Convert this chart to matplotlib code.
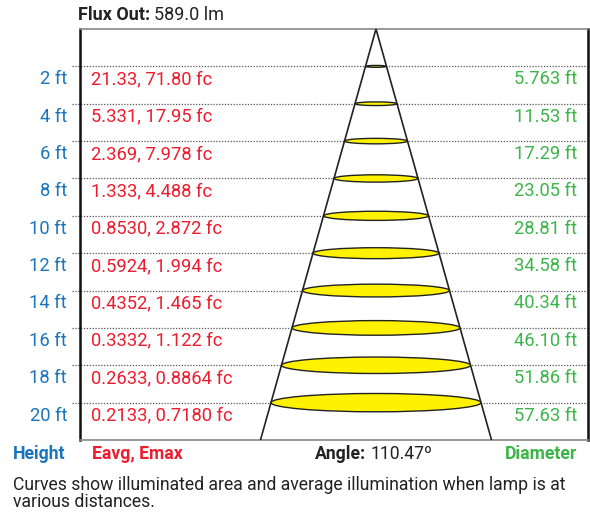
import matplotlib
matplotlib.use("Agg")
import matplotlib.pyplot as plt
from matplotlib.patches import Ellipse
from matplotlib.transforms import blended_transform_factory
import numpy as np

plt.rcParams['font.family'] = ['Roboto', 'DejaVu Sans']

heights = [2, 4, 6, 8, 10, 12, 14, 16, 18, 20]
height_labels = ["2 ft", "4 ft", "6 ft", "8 ft", "10 ft", "12 ft", "14 ft", "16 ft", "18 ft", "20 ft"]
illum_labels = ["21.33, 71.80 fc", "5.331, 17.95 fc", "2.369, 7.978 fc", "1.333, 4.488 fc",
                "0.8530, 2.872 fc", "0.5924, 1.994 fc", "0.4352, 1.465 fc", "0.3332, 1.122 fc",
                "0.2633, 0.8864 fc", "0.2133, 0.7180 fc"]
diameters = [5.763, 11.53, 17.29, 23.05, 28.81, 34.58, 40.34, 46.10, 51.86, 57.63]
diameter_labels = ["5.763 ft", "11.53 ft", "17.29 ft", "23.05 ft", "28.81 ft", "34.58 ft",
                   "40.34 ft", "46.10 ft", "51.86 ft", "57.63 ft"]
flux = "589.0 lm"
angle = 110.47
caption = "Curves show illuminated area and average illumination when lamp is at\nvarious distances."

W, H = 590, 516
fig = plt.figure(figsize=(W / 100, H / 100), dpi=100)

# axes box in pixels
L, R, T, B = 80, 588, 29, 440
ax = fig.add_axes([L / W, 1 - B / H, (R - L) / W, (B - T) / H])
px_per_ft = 3.645
cx = 376
YMAX = 22
ax.set_xlim((L - cx) / px_per_ft, (R - cx) / px_per_ft)
ax.set_ylim(YMAX, 0)
ax.set_xticks([])
ax.set_yticks([])
for s in ['top', 'bottom']:
    ax.spines[s].set_color('#888888')
    ax.spines[s].set_linewidth(1.2)
for s in ['left', 'right']:
    ax.spines[s].set_color('#111111')
    ax.spines[s].set_linewidth(1.8)

BLUE = '#1a75bc'
RED = '#ed1c2e'
GREEN = '#3db54a'
DARK = '#222222'
FS = 13.2
FS2 = 12.7

fig_x = blended_transform_factory(fig.transFigure, ax.transData)

# dotted lines
for h in heights:
    ax.plot([(L - 8 - cx) / px_per_ft, (R - cx) / px_per_ft], [h, h], color='#555555',
            lw=0.9, ls=(0, (1, 1.3)), zorder=1, clip_on=False)

# cone
half = np.tan(np.radians(angle / 2))
ax.plot([-half * YMAX, 0, half * YMAX], [YMAX, 0, YMAX], color=DARK, lw=1.2, zorder=3)

# ellipses
for h, d in zip(heights, diameters):
    e = Ellipse((0, h), width=d, height=d * 0.017, facecolor='#fff200', edgecolor=DARK,
                lw=1.0, zorder=4)
    ax.add_patch(e)

# labels
for h, hl, il, dl in zip(heights, height_labels, illum_labels, diameter_labels):
    ax.text(67 / W, h + 0.96, hl, transform=fig_x, ha='right', va='baseline',
            color=BLUE, fontsize=FS)
    ax.text(91 / W, h + 0.96, il, transform=fig_x, ha='left', va='baseline',
            color=RED, fontsize=FS)
    ax.text(577 / W, h + 0.96, dl, transform=fig_x, ha='right', va='baseline',
            color=GREEN, fontsize=FS)

def fy(py):
    return 1 - py / H

fig.canvas.draw()
renderer = fig.canvas.get_renderer()

def mixed(x, y, bold, regular, fs, color=DARK):
    t = fig.text(x / W, fy(y), bold, fontsize=fs, fontweight='bold', color=color,
                 ha='left', va='baseline')
    bb = t.get_window_extent(renderer=renderer)
    fig.text((bb.x1 + 4) / W, fy(y), regular, fontsize=fs, color=color,
             ha='left', va='baseline')

mixed(78, 20, "Flux Out:", flux, 13.0)
mixed(315, 459, "Angle:", f"{angle:.2f}º", FS2)

fig.text(13 / W, fy(459), "Height", fontsize=FS2, fontweight='bold', color=BLUE,
         ha='left', va='baseline')
fig.text(92 / W, fy(459), "Eavg, Emax", fontsize=FS2, fontweight='bold', color=RED,
         ha='left', va='baseline')
fig.text(577 / W, fy(459), "Diameter", fontsize=FS2, fontweight='bold', color=GREEN,
         ha='right', va='baseline')

fig.text(13 / W, fy(476), caption, fontsize=FS2, color=DARK, ha='left', va='top',
         linespacing=0.95)

fig.savefig("out.png", dpi=100)
